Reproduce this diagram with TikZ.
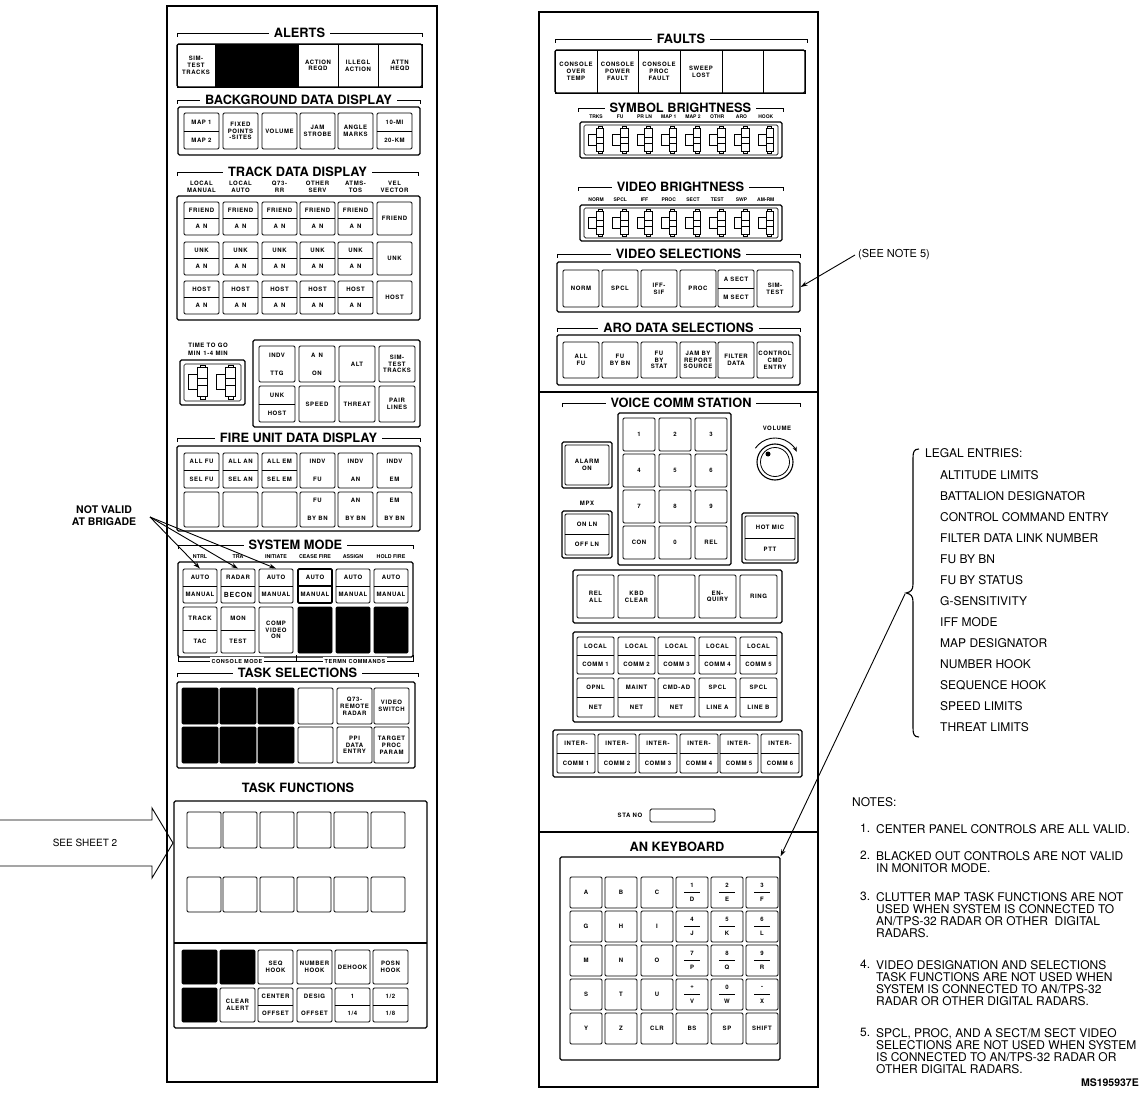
\documentclass[tikz,border=0pt]{standalone}
\usepackage{fontspec}
\setmainfont{TeX Gyre Heros}
\newfontfamily\lsfam[LetterSpace=10]{TeX Gyre Heros}
\usetikzlibrary{calc,arrows.meta}
\newcommand\lblf{\lsfam\bfseries\fontsize{6}{6.8}\selectfont}
\newcommand\ttlf{\bfseries\fontsize{12.8}{14}\selectfont}
\tikzset{
 cellbox/.style={draw,line width=0.9pt,rounded corners=1.2pt,inner sep=0pt,align=center,font=\lblf},
 lbltext/.style={inner sep=0pt,align=center,font=\lblf},
 secbox/.style={draw,line width=1.1pt,rounded corners=1.5pt,inner sep=0pt},
 panelsty/.style={draw,line width=1.3pt,sharp corners,inner sep=0pt},
 sectitle/.style={fill=white,inner ysep=2pt,inner xsep=5pt,font=\ttlf},
 hdr/.style={inner sep=0pt,align=center,font=\lsfam\bfseries\fontsize{6}{7}\selectfont},
 smhdr/.style={inner sep=0pt,align=center,font=\bfseries\fontsize{5.3}{6.5}\selectfont},
 bracketline/.style={line width=0.8pt},
 notetext/.style={inner sep=0pt,align=left,anchor=north west,font=\fontsize{12}{12}\selectfont},
 legal/.style={inner sep=0pt,anchor=west,font=\fontsize{12}{13}\selectfont},
 ptr/.style={line width=0.9pt,-{Stealth[length=7pt,width=4.5pt]}},
 blk/.style={fill=black},
}
% cell: [opts]{name}{x}{y}{w}{h}{text}
\newcommand\pcell[7][]{\node[cellbox,#1,minimum width={#5*1pt},minimum height={#6*1pt}] (#2) at ({#3+#5/2},{#4+#6/2}) {#7};}
% split cell with divider
\newcommand\pscell[8][]{\node[cellbox,#1,minimum width={#5*1pt},minimum height={#6*1pt}] (#2) at ({#3+#5/2},{#4+#6/2}) {};
 \draw[line width=0.7pt,#1] (#2.west) -- (#2.east);
 \node[lbltext] (#2-t) at ({#3+#5/2},{#4+#6/4}) {#7};
 \node[lbltext] (#2-b) at ({#3+#5/2},{#4+3*#6/4}) {#8};}
% two labels, no divider
\newcommand\pdcell[8][]{\node[cellbox,#1,minimum width={#5*1pt},minimum height={#6*1pt}] (#2) at ({#3+#5/2},{#4+#6/2}) {};
 \node[lbltext] (#2-t) at ({#3+#5/2},{#4+#6/4}) {#7};
 \node[lbltext] (#2-b) at ({#3+#5/2},{#4+3*#6/4}) {#8};}
% fraction key
\newcommand\pfkey[7]{\node[cellbox,minimum width={#4*1pt},minimum height={#5*1pt}] (#1) at ({#2+#4/2},{#3+#5/2}) {};
 \node[lbltext] (#1-t) at ({#2+#4/2},{#3+#5/2-7}) {#6};
 \draw[line width=0.6pt] ({#2+#4/2-8},{#3+#5/2}) -- ({#2+#4/2+8},{#3+#5/2});
 \node[lbltext] (#1-b) at ({#2+#4/2},{#3+#5/2+7}) {#7};}
% box: [opts]{name}{x1}{y1}{x2}{y2}
\newcommand\pbox[6][]{\node[secbox,#1,minimum width={(#5-#3)*1pt},minimum height={(#6-#4)*1pt}] (#2) at ({(#3+#5)/2},{(#4+#6)/2}) {};}
% section title with bracket
\newcommand\psect[5]{\draw[bracketline] (#2,{#4+4}) -- (#2,#4) -- (#3,#4) -- (#3,{#4+4});
 \node[sectitle] (#1) at ({(#2+#3)/2},#4) {#5};}
% thumbwheel
\newcommand\pwheel[3]{\begin{scope}[shift={({#1},{#2})},scale=#3,line width=0.6pt]
 \draw (-10,-6) rectangle (-2,6);
 \draw (-2,-12) rectangle (6,12);
 \draw (0,-14) rectangle (4,-12);
 \draw (0,12) rectangle (4,14);
 \draw (-2,-3) -- (6,-3) (-2,3) -- (6,3);
\end{scope}}
\begin{document}
\begin{tikzpicture}[x=1pt,y=-1pt]
\useasboundingbox (0,0) rectangle (1141,1099);
\fill[white] (0,0) rectangle (1141,1099);

%================ LEFT PANEL
\pbox[panelsty]{lpanel}{167}{6}{437}{1082}

% ALERTS
\psect{tal}{177}{422}{33}{ALERTS}
\pbox{albox}{177}{44}{422}{87}
\pcell[sharp corners]{al1}{177}{44}{38}{43}{SIM-\\TEST\\TRACKS}
\pcell[sharp corners,blk]{al2}{215}{44}{83}{43}{}
\pcell[sharp corners]{al3}{298}{44}{40}{43}{ACTION\\REQD}
\pcell[sharp corners]{al4}{338}{44}{40}{43}{ILLEGL\\ACTION}
\pcell[sharp corners]{al5}{378}{44}{44}{43}{ATTN\\HEQD}

% BACKGROUND DATA DISPLAY
\psect{tbg}{177}{420}{100}{BACKGROUND DATA DISPLAY}
\pbox{bgbox}{178}{107}{420}{155}
\pscell{bg1}{184}{113}{35}{36}{MAP 1}{MAP 2}
\pcell{bg2}{223}{113}{35}{36}{FIXED\\POINTS\\-SITES}
\pcell{bg3}{262}{113}{35}{36}{VOLUME}
\pcell{bg4}{300}{113}{35}{36}{JAM\\STROBE}
\pcell{bg5}{338}{113}{35}{36}{ANGLE\\MARKS}
\pscell{bg6}{377}{113}{35}{36}{10-MI}{20-KM}

% TRACK DATA DISPLAY
\psect{ttd}{177}{418}{172}{TRACK DATA DISPLAY}
\node[hdr] (tdhd1) at (201.5,187) {LOCAL\\MANUAL};
\node[hdr] (tdhd2) at (240.5,187) {LOCAL\\AUTO};
\node[hdr] (tdhd3) at (279.5,187) {Q73-\\RR};
\node[hdr] (tdhd4) at (317.5,187) {OTHER\\SERV};
\node[hdr] (tdhd5) at (355.5,187) {ATMS-\\TOS};
\node[hdr] (tdhd6) at (394.5,187) {VEL\\VECTOR};
\pbox{tdbox}{177}{196}{420}{320}
\foreach \c/\x in {1/184,2/223,3/262,4/300,5/338}{
 \pscell{tdf\c}{\x}{202}{35}{33}{FRIEND}{A\enspace N}
 \pscell{tdu\c}{\x}{242}{35}{33}{UNK}{A\enspace N}
 \pscell{tdh\c}{\x}{281}{35}{33}{HOST}{A\enspace N}
}
\pcell{tdf6}{377}{202}{35}{33}{FRIEND}
\pcell{tdu6}{377}{242}{35}{33}{UNK}
\pcell{tdh6}{377}{281}{35}{33}{HOST}

% TIME TO GO
\node[hdr] (ttgl) at (208,345) {TIME TO GO};
\node[hdr] (ttgm) at (208,353) {MIN\enspace 1-4 MIN};
\pbox{ttgbox}{180}{360}{245}{405}
\pbox[line width=0.7pt]{ttgin}{184}{364}{241}{401}
\pwheel{200}{382}{1.2}
\pwheel{228}{382}{1.2}

\pbox{dsbox}{253}{340}{420}{427}
\pdcell{ds1}{259}{346}{36}{36}{INDV}{TTG}
\pdcell{ds2}{299}{346}{36}{36}{A\enspace N}{ON}
\pcell{ds3}{339}{346}{36}{36}{ALT}
\pcell{ds4}{379}{346}{36}{36}{SIM-\\TEST\\TRACKS}
\pscell{ds5}{259}{386}{36}{36}{UNK}{HOST}
\pcell{ds6}{299}{386}{36}{36}{SPEED}
\pcell{ds7}{339}{386}{36}{36}{THREAT}
\pcell{ds8}{379}{386}{36}{36}{PAIR\\LINES}

% FIRE UNIT DATA DISPLAY
\psect{tfu}{177}{420}{438}{FIRE UNIT DATA DISPLAY}
\pbox{fubox}{177}{446}{420}{531}
\pscell{fu1}{184}{453}{35}{35}{ALL FU}{SEL FU}
\pscell{fu2}{223}{453}{35}{35}{ALL AN}{SEL AN}
\pscell{fu3}{262}{453}{35}{35}{ALL EM}{SEL EM}
\pdcell{fu4}{300}{453}{35}{35}{INDV}{FU}
\pdcell{fu5}{338}{453}{35}{35}{INDV}{AN}
\pdcell{fu6}{377}{453}{35}{35}{INDV}{EM}
\pcell{fu7}{184}{492}{35}{35}{}
\pcell{fu8}{223}{492}{35}{35}{}
\pcell{fu9}{262}{492}{35}{35}{}
\pdcell{fu10}{300}{492}{35}{35}{FU}{BY BN}
\pdcell{fu11}{338}{492}{35}{35}{AN}{BY BN}
\pdcell{fu12}{377}{492}{35}{35}{EM}{BY BN}

% SYSTEM MODE
\psect{tsm}{178}{413}{545}{SYSTEM MODE}
\node[smhdr] (smh1) at (200,557) {NTRL};
\node[smhdr] (smh2) at (238,557) {TRA};
\node[smhdr] (smh3) at (276,557) {INITIATE};
\node[smhdr] (smh4) at (315,557) {CEASE FIRE};
\node[smhdr] (smh5) at (353,557) {ASSIGN};
\node[smhdr] (smh6) at (391,557) {HOLD FIRE};
\pbox{smbox}{178}{562}{413}{657}
\pscell{sm1}{183}{569}{34}{34}{AUTO}{MANUAL}
\pscell{sm2}{221}{569}{34}{34}{RADAR}{{\fontsize{7}{8}\selectfont BECON}}
\pscell{sm3}{259}{569}{34}{34}{AUTO}{MANUAL}
\pscell[line width=1.8pt]{sm4}{298}{569}{34}{34}{AUTO}{MANUAL}
\pscell{sm5}{336}{569}{34}{34}{AUTO}{MANUAL}
\pscell{sm6}{374}{569}{34}{34}{AUTO}{MANUAL}
\pscell{sm7}{183}{607}{34}{46}{TRACK}{TAC}
\pscell{sm8}{221}{607}{34}{46}{MON}{TEST}
\pcell{sm9}{259}{607}{34}{46}{COMP\\VIDEO\\ON}
\pcell[blk]{sm10}{298}{607}{34}{46}{}
\pcell[blk]{sm11}{336}{607}{34}{46}{}
\pcell[blk]{sm12}{374}{607}{34}{46}{}
\draw[bracketline] (178,655) -- (178,661) -- (413,661) -- (413,655) (296,655) -- (296,661);
\node[hdr,fill=white,inner sep=1.5pt,font=\lsfam\bfseries\fontsize{5.5}{6.5}\selectfont] (cmode) at (237,661) {CONSOLE MODE};
\node[hdr,fill=white,inner sep=1.5pt,font=\lsfam\bfseries\fontsize{5.5}{6.5}\selectfont] (tcmd) at (355,661) {TERMN COMMANDS};

% TASK SELECTIONS
\psect{tts}{177}{418}{673}{TASK SELECTIONS}
\pbox{tsbox}{177}{682}{415}{768}
\foreach \c/\x in {1/182,2/220,3/258}{
 \pcell[blk]{tsa\c}{\x}{688}{36}{36}{}
 \pcell[blk]{tsb\c}{\x}{727}{36}{36}{}
}
\pcell{tsa4}{298}{688}{35}{36}{}
\pcell{tsb4}{298}{727}{35}{36}{}
\pcell{tsa5}{337}{688}{35}{36}{Q73-\\REMOTE\\RADAR}
\pcell{tsb5}{337}{727}{35}{36}{PPI\\DATA\\ENTRY}
\pcell{tsa6}{374}{688}{35}{36}{VIDEO\\SWITCH}
\pcell{tsb6}{374}{727}{35}{36}{TARGET\\PROC\\PARAM}

% TASK FUNCTIONS
\node[font=\ttlf] (ttf) at (298,788) {TASK FUNCTIONS};
\pbox{tfbox}{174}{801}{427}{1028}
\draw[line width=1.1pt] (174,943) -- (427,943);
\foreach \c/\x in {1/187,2/223,3/260,4/297,5/334,6/371}{
 \pcell{tfa\c}{\x}{812}{34}{36}{}
 \pcell{tfb\c}{\x}{877}{34}{35}{}
}
\pcell[blk]{tfc1}{182}{950}{35}{34}{}
\pcell[blk]{tfc2}{220}{950}{35}{34}{}
\pcell{tfc3}{258}{950}{35}{34}{SEQ\\HOOK}
\pcell{tfc4}{297}{950}{35}{34}{NUMBER\\HOOK}
\pcell{tfc5}{335}{950}{35}{34}{DEHOOK}
\pcell{tfc6}{373}{950}{35}{34}{POSN\\HOOK}
\pcell[blk]{tfd1}{182}{988}{35}{34}{}
\pcell{tfd2}{220}{988}{35}{34}{CLEAR\\ALERT}
\pscell{tfd3}{258}{988}{35}{34}{CENTER}{OFFSET}
\pdcell{tfd4}{297}{988}{35}{34}{DESIG}{OFFSET}
\pscell{tfd5}{335}{988}{35}{34}{1}{1/4}
\pscell{tfd6}{373}{988}{35}{34}{1/2}{1/8}

% NOT VALID AT BRIGADE
\node[font=\bfseries\fontsize{10.5}{12}\selectfont,align=center,inner sep=0pt] (nv) at (104,516) {NOT VALID\\AT BRIGADE};
\coordinate (nvo) at (150,517);
\draw[ptr] (nvo) -- (sm1.north);
\draw[ptr] (nvo) -- (sm2.north);
\draw[ptr] (nvo) -- (sm3.north);

% SEE SHEET 2
\draw[line width=0.9pt] (0,820) -- (152,820) -- (152,808) -- (173,843) -- (152,878) -- (152,866) -- (0,866);
\node[font=\fontsize{10}{12}\selectfont] (ss2) at (85,843) {SEE SHEET 2};

%================ RIGHT PANEL
\pbox[panelsty]{rpanel}{539}{12}{818}{1087}

% FAULTS
\psect{tfa}{555}{807}{39}{FAULTS}
\pbox{fabox}{555}{50}{805}{93}
\pcell[sharp corners]{fa1}{555}{50}{42}{43}{CONSOLE\\OVER\\TEMP}
\pcell[sharp corners]{fa2}{597}{50}{41}{43}{CONSOLE\\POWER\\FAULT}
\pcell[sharp corners]{fa3}{638}{50}{42}{43}{CONSOLE\\PROC\\FAULT}
\pcell[sharp corners]{fa4}{680}{50}{42}{43}{SWEEP\\LOST}
\pcell[sharp corners]{fa5}{722}{50}{41}{43}{}
\pcell[sharp corners]{fa6}{763}{50}{42}{43}{}

% SYMBOL BRIGHTNESS
\psect{tsb}{578}{783}{108}{SYMBOL BRIGHTNESS}
\foreach \t [count=\i from 0] in {TRKS,FU,PR LN,MAP 1,MAP 2,OTHR,ARO,HOOK}{
 \node[hdr,font=\bfseries\fontsize{5}{6}\selectfont] (sbl\i) at ({596+24.25*\i},117) {\t};}
\pbox{sbbox}{580}{122}{782}{158}
\pbox[line width=0.7pt]{sbin}{584}{125}{778}{155}
\foreach \i in {0,...,7}{\pwheel{598+24.25*\i}{140}{0.95}}

% VIDEO BRIGHTNESS
\psect{tvb}{578}{783}{187}{VIDEO BRIGHTNESS}
\foreach \t [count=\i from 0] in {NORM,SPCL,IFF,PROC,SECT,TEST,SWP,AM-RM}{
 \node[hdr,font=\bfseries\fontsize{5}{6}\selectfont] (vbl\i) at ({596+24.25*\i},200) {\t};}
\pbox{vbbox}{580}{205}{782}{241}
\pbox[line width=0.7pt]{vbin}{584}{208}{778}{238}
\foreach \i in {0,...,7}{\pwheel{598+24.25*\i}{223}{0.95}}

% VIDEO SELECTIONS
\psect{tvs}{557}{800}{254}{VIDEO SELECTIONS}
\pbox{vsbox}{557}{262}{800}{312}
\pcell{vs1}{563}{270}{36}{37}{NORM}
\pcell{vs2}{602}{270}{36}{37}{SPCL}
\pcell{vs3}{641}{270}{36}{37}{IFF-\\SIF}
\pcell{vs4}{680}{270}{36}{37}{PROC}
\pscell{vs5}{718}{270}{36}{37}{A SECT}{M SECT}
\pcell{vs6}{757}{270}{36}{37}{SIM-\\TEST}
\node[anchor=west,inner sep=0pt,font=\fontsize{11}{12}\selectfont] (sn5) at (858,255) {(SEE NOTE 5)};
\draw[ptr] ([xshift=-3pt]sn5.west) -- (vsbox.east);

% ARO DATA SELECTIONS
\psect{tar}{557}{800}{328}{ARO DATA SELECTIONS}
\pbox{arbox}{557}{335}{800}{385}
\pcell{ar1}{563}{342}{36}{36}{ALL\\FU}
\pcell{ar2}{602}{342}{36}{36}{FU\\BY BN}
\pcell{ar3}{641}{342}{36}{36}{FU\\BY\\STAT}
\pcell{ar4}{680}{342}{36}{36}{JAM BY\\REPORT\\SOURCE}
\pcell{ar5}{718}{342}{36}{36}{FILTER\\DATA}
\pcell{ar6}{757}{342}{36}{36}{CONTROL\\CMD\\ENTRY}

\draw[line width=1.3pt] (539,392) -- (818,392);

% VOICE COMM STATION
\psect{tvc}{562}{800}{403}{VOICE COMM STATION}
\pbox{kpbox}{618}{413}{731}{565}
\foreach \t [count=\i from 0] in {1,2,3,4,5,6,7,8,9,CON,0,REL}{
 \pgfmathtruncatemacro\cc{mod(\i,3)}
 \pgfmathtruncatemacro\rr{div(\i,3)}
 \pcell{vk\i}{623+36*\cc}{418+36*\rr}{32}{33}{\t}}
\pbox{alout}{562}{442}{612}{488}
\pcell{alarm}{565}{445}{44}{40}{ALARM\\ON}
\node[hdr] (mpxl) at (587,503) {MPX};
\pbox{mpxout}{562}{511}{612}{558}
\pscell{mpx}{565}{514}{44}{41}{ON LN}{OFF LN}
\node[hdr] (voll) at (777,428) {VOLUME};
\node[circle,draw,line width=1.1pt,minimum size=36pt,inner sep=0pt] (knob) at (775,462) {};
\node[circle,draw,line width=0.8pt,minimum size=29pt,inner sep=0pt] (knobin) at (775,462) {};
\fill (768,454) circle (2.5);
\draw[line width=0.9pt,-{Stealth[length=5pt,width=4pt]}] ([shift={(215:24)}]knob.center) arc (215:335:24);
\pbox{hmout}{742}{513}{798}{563}
\pscell{hm}{745}{516}{50}{44}{HOT MIC}{PTT}

% REL ALL row
\pbox{rabox}{573}{570}{782}{623}
\pcell{ra1}{577}{575}{37}{43}{REL\\ALL}
\pcell{ra2}{618}{575}{37}{43}{KBD\\CLEAR}
\pcell{ra3}{658}{575}{37}{43}{}
\pcell{ra4}{699}{575}{37}{43}{EN-\\QUIRY}
\pcell{ra5}{740}{575}{37}{43}{RING}

% LOCAL
\pbox{lcbox}{573}{632}{782}{722}
\foreach \c/\x in {1/577,2/618,3/658,4/699,5/740}{
 \pscell{lc\c}{\x}{637}{37}{37}{LOCAL}{COMM \c}}
\pscell{ln1}{577}{678}{37}{39}{OPNL}{NET}
\pscell{ln2}{618}{678}{37}{39}{MAINT}{NET}
\pscell{ln3}{658}{678}{37}{39}{CMD-AD}{NET}
\pscell{ln4}{699}{678}{37}{39}{SPCL}{LINE A}
\pscell{ln5}{740}{678}{37}{39}{SPCL}{LINE B}

% INTER-COMM
\pbox{icbox}{553}{730}{802}{777}
\foreach \c/\x in {1/557,2/598,3/639,4/680,5/720,6/761}{
 \pscell{ic\c}{\x}{734}{38}{39}{INTER-}{COMM \c}}

% STA NO
\node[hdr] (stal) at (630,815) {STA NO};
\pbox[line width=0.8pt]{stabox}{650}{809}{715}{822}
\draw[line width=1.3pt] (539,832) -- (818,832);

% AN KEYBOARD
\node[font=\ttlf] (tkb) at (677,847) {AN KEYBOARD};
\pbox{kbbox}{560}{857}{780}{1060}
\foreach \r/\qa/\qb/\qc/\qd/\qe/\qf/\qg/\qh/\qi in {0/A/B/C/1/D/2/E/3/F,1/G/H/I/4/J/5/K/6/L,2/M/N/O/7/P/8/Q/9/R,3/S/T/U/+/V/0/W/-/X}{
 \pgfmathsetmacro\yy{877+34*\r}
 \pcell{key\qa}{570}{\yy}{32}{31}{\qa}
 \pcell{key\qb}{605}{\yy}{32}{31}{\qb}
 \pcell{key\qc}{641}{\yy}{32}{31}{\qc}
 \pfkey{key\qe}{676}{\yy}{32}{31}{\qd}{\qe}
 \pfkey{key\qg}{711}{\yy}{32}{31}{\qf}{\qg}
 \pfkey{key\qi}{746}{\yy}{32}{31}{\qh}{\qi}
}
\pcell{keyY}{570}{1013}{32}{31}{Y}
\pcell{keyZ}{605}{1013}{32}{31}{Z}
\pcell{keyCLR}{641}{1013}{32}{31}{CLR}
\pcell{keyBS}{676}{1013}{32}{31}{BS}
\pcell{keySP}{711}{1013}{32}{31}{SP}
\pcell{keySHIFT}{746}{1013}{32}{31}{SHIFT}

%================ ANNOTATIONS
\draw[line width=1.1pt] (919,449) .. controls (914,449) and (913,452) .. (913,458) -- (913,584)
  .. controls (913,590) and (911,592) .. (906,593) .. controls (911,594) and (913,596) .. (913,602)
  -- (913,728) .. controls (913,734) and (914,737) .. (919,737);
\node[legal] (legalt) at (925,453) {LEGAL ENTRIES:};
\foreach \t [count=\i from 0] in {ALTITUDE LIMITS,BATTALION DESIGNATOR,CONTROL COMMAND ENTRY,FILTER DATA LINK NUMBER,FU BY BN,FU BY STATUS,G-SENSITIVITY,IFF MODE,MAP DESIGNATOR,NUMBER HOOK,SEQUENCE HOOK,SPEED LIMITS,THREAT LIMITS}{
 \node[legal] (le\i) at (940,{475+21*\i}) {\t};}
\coordinate (bcusp) at (905,594);
\draw[ptr] (bcusp) -- (kbbox.north east);

\node[anchor=west,inner sep=0pt,font=\fontsize{12}{12}\selectfont] (notes) at (852,802) {NOTES:};
\node[notetext] (n1n) at (860,824) {1.};
\node[notetext] (n1) at (876,824) {CENTER PANEL CONTROLS ARE ALL VALID.};
\node[notetext] (n2n) at (860,851) {2.};
\node[notetext] (n2) at (876,851) {BLACKED OUT CONTROLS ARE NOT VALID\\IN MONITOR MODE.};
\node[notetext] (n3n) at (860,892) {3.};
\node[notetext] (n3) at (876,892) {CLUTTER MAP TASK FUNCTIONS ARE NOT\\USED WHEN SYSTEM IS CONNECTED TO\\AN/TPS-32 RADAR OR OTHER\ \ DIGITAL\\RADARS.};
\node[notetext] (n4n) at (860,960) {4.};
\node[notetext] (n4) at (876,960) {VIDEO DESIGNATION AND SELECTIONS\\TASK FUNCTIONS ARE NOT USED WHEN\\SYSTEM IS CONNECTED TO AN/TPS-32\\RADAR OR OTHER DIGITAL RADARS.};
\node[notetext] (n5n) at (860,1028) {5.};
\node[notetext] (n5) at (876,1028) {SPCL, PROC, AND A SECT/M SECT VIDEO\\SELECTIONS ARE NOT USED WHEN SYSTEM\\IS CONNECTED TO AN/TPS-32 RADAR OR\\OTHER DIGITAL RADARS.};
\node[anchor=east,inner sep=0pt,font=\bfseries\fontsize{10.5}{12}\selectfont] (msid) at (1139,1083) {MS195937E};
\end{tikzpicture}
\end{document}
